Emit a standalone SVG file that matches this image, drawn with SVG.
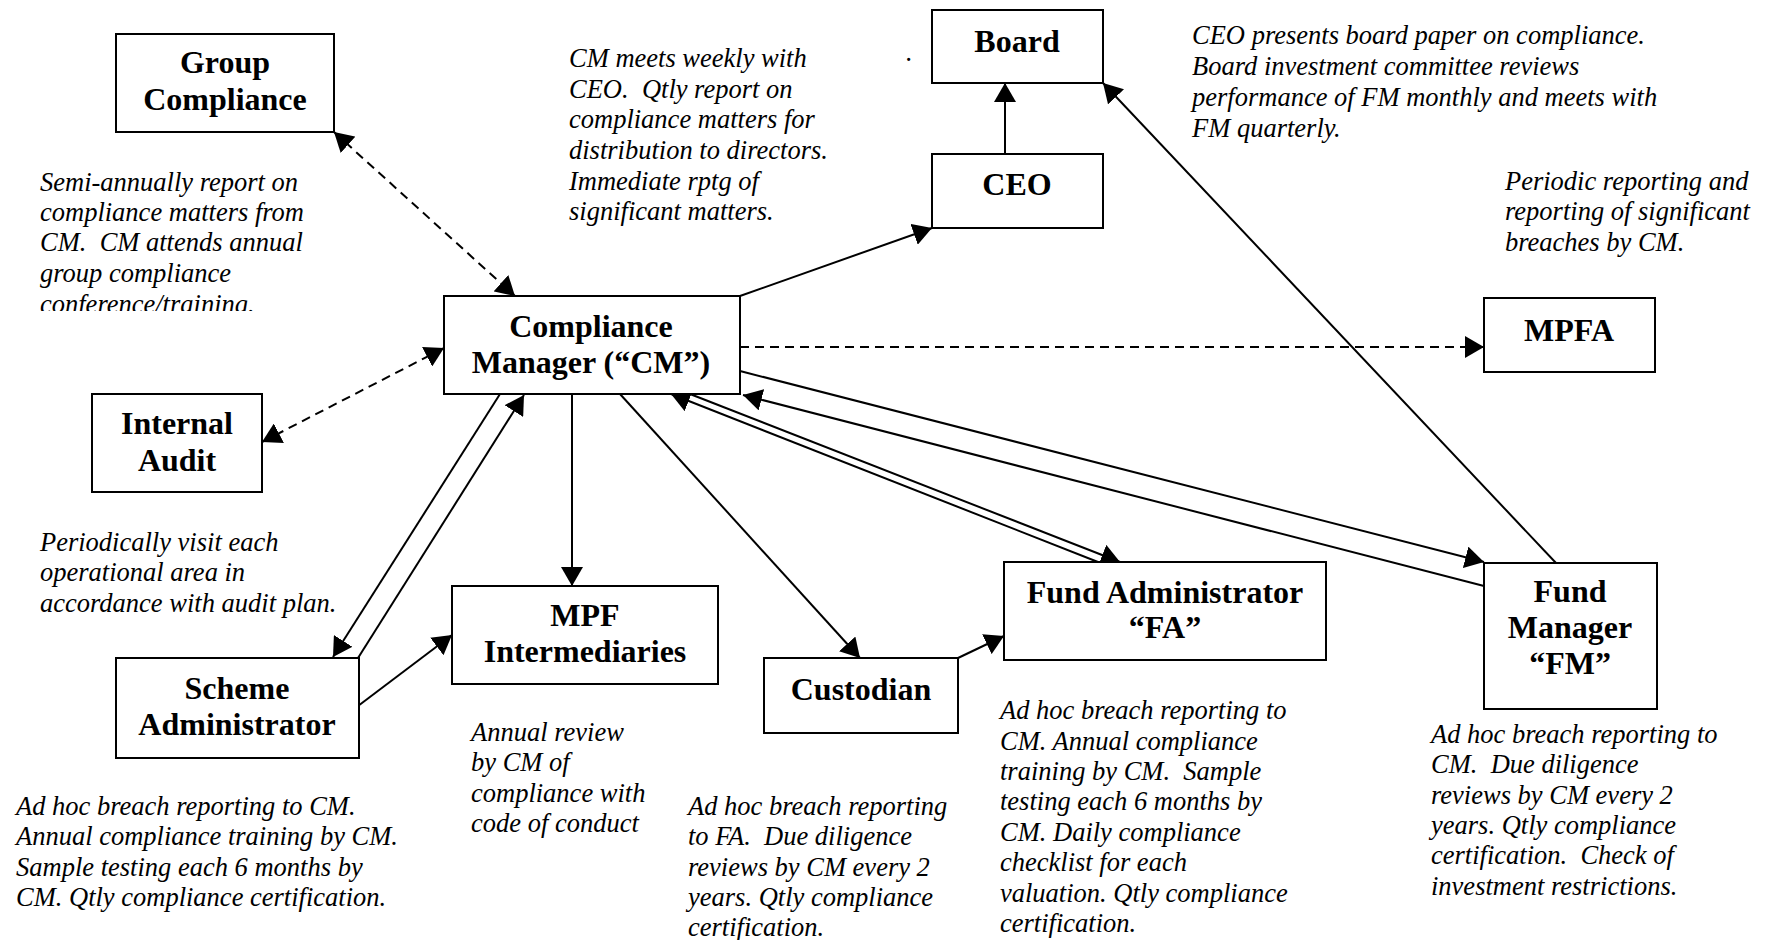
<svg xmlns="http://www.w3.org/2000/svg" width="1767" height="940" viewBox="0 0 1767 940">
<defs>
<marker id="ah" markerUnits="userSpaceOnUse" markerWidth="20" markerHeight="22" refX="19" refY="11" orient="auto-start-reverse" viewBox="0 0 20 22"><path d="M0,0 L19,11 L0,22 z" fill="#000"/></marker>
<clipPath id="clipGC"><rect x="0" y="160" width="400" height="151"/></clipPath>
</defs>
<style>
.box{fill:#fff;stroke:#000;stroke-width:2}
.lbl{font-family:"Liberation Serif","Times New Roman",serif;font-weight:bold;font-size:32px;text-anchor:middle;fill:#000}
.note{font-family:"Liberation Serif","Times New Roman",serif;font-style:italic;font-size:26.5px;fill:#000;white-space:pre}
.ln{stroke:#000;stroke-width:2;fill:none}
.dash{stroke-dasharray:9,6}
</style>
<rect x="0" y="0" width="1767" height="940" fill="#fff"/>

<g id="connectors">
<line class="ln dash" x1="334" y1="132" x2="515" y2="296" marker-start="url(#ah)" marker-end="url(#ah)"/>
<line class="ln dash" x1="262" y1="442" x2="444" y2="348" marker-start="url(#ah)" marker-end="url(#ah)"/>
<line class="ln dash" x1="740" y1="347" x2="1484" y2="347" marker-end="url(#ah)"/>
<line class="ln" x1="740" y1="296" x2="932" y2="228" marker-end="url(#ah)"/>
<line class="ln" x1="1005" y1="154" x2="1005" y2="83" marker-end="url(#ah)"/>
<line class="ln" x1="1556" y1="563" x2="1103" y2="83" marker-end="url(#ah)"/>
<line class="ln" x1="572" y1="394" x2="572" y2="586" marker-end="url(#ah)"/>
<line class="ln" x1="500" y1="394" x2="333" y2="657" marker-end="url(#ah)"/>
<line class="ln" x1="358" y1="658" x2="524" y2="395" marker-end="url(#ah)"/>
<line class="ln" x1="358" y1="706" x2="452" y2="635" marker-end="url(#ah)"/>
<line class="ln" x1="620" y1="394" x2="860" y2="658" marker-end="url(#ah)"/>
<line class="ln" x1="958" y1="658" x2="1004" y2="636" marker-end="url(#ah)"/>
<line class="ln" x1="690" y1="394" x2="1120" y2="562" marker-end="url(#ah)"/>
<line class="ln" x1="1098" y1="562" x2="671" y2="394" marker-end="url(#ah)"/>
<line class="ln" x1="740" y1="371" x2="1484" y2="562" marker-end="url(#ah)"/>
<line class="ln" x1="1484" y1="586" x2="743" y2="395" marker-end="url(#ah)"/>
</g>

<g id="group-compliance"><rect class="box" x="116" y="34" width="218" height="98"/><text class="lbl" x="225" y="73">Group</text><text class="lbl" x="225" y="110">Compliance</text></g>
<g id="board"><rect class="box" x="932" y="10" width="171" height="73"/><text class="lbl" x="1017" y="52">Board</text></g>
<g id="ceo"><rect class="box" x="932" y="154" width="171" height="74"/><text class="lbl" x="1017" y="195">CEO</text></g>
<g id="compliance-manager"><rect class="box" x="444" y="296" width="296" height="98"/><text class="lbl" x="591" y="337">Compliance</text><text class="lbl" x="591" y="373">Manager (“CM”)</text></g>
<g id="mpfa"><rect class="box" x="1484" y="298" width="171" height="74"/><text class="lbl" x="1569" y="341">MPFA</text></g>
<g id="internal-audit"><rect class="box" x="92" y="394" width="170" height="98"/><text class="lbl" x="177" y="434">Internal</text><text class="lbl" x="177" y="471">Audit</text></g>
<g id="mpf-intermediaries"><rect class="box" x="452" y="586" width="266" height="98"/><text class="lbl" x="585" y="626">MPF</text><text class="lbl" x="585" y="662">Intermediaries</text></g>
<g id="custodian"><rect class="box" x="764" y="658" width="194" height="75"/><text class="lbl" x="861" y="700">Custodian</text></g>
<g id="fund-administrator"><rect class="box" x="1004" y="562" width="322" height="98"/><text class="lbl" x="1165" y="603">Fund Administrator</text><text class="lbl" x="1165" y="638">“FA”</text></g>
<g id="fund-manager"><rect class="box" x="1484" y="563" width="173" height="146"/><text class="lbl" x="1570" y="602">Fund</text><text class="lbl" x="1570" y="638">Manager</text><text class="lbl" x="1570" y="674">“FM”</text></g>
<g id="scheme-administrator"><rect class="box" x="116" y="658" width="243" height="100"/><text class="lbl" x="237" y="699">Scheme</text><text class="lbl" x="237" y="735">Administrator</text></g>

<g id="notes">
<g clip-path="url(#clipGC)"><text class="note"><tspan x="40" y="191">Semi-annually report on</tspan><tspan x="40" y="221">compliance matters from</tspan><tspan x="40" y="251">CM.  CM attends annual</tspan><tspan x="40" y="282">group compliance</tspan><tspan x="40" y="313">conference/training.</tspan></text></g>
<text class="note"><tspan x="569" y="67">CM meets weekly with</tspan><tspan x="569" y="98">CEO.  Qtly report on</tspan><tspan x="569" y="128">compliance matters for</tspan><tspan x="569" y="159">distribution to directors.</tspan><tspan x="569" y="190">Immediate rptg of</tspan><tspan x="569" y="220">significant matters.</tspan></text>
<text class="note" x="906" y="61">.</text>
<text class="note"><tspan x="1192" y="44">CEO presents board paper on compliance.</tspan><tspan x="1192" y="75">Board investment committee reviews</tspan><tspan x="1192" y="106">performance of FM monthly and meets with</tspan><tspan x="1192" y="137">FM quarterly.</tspan></text>
<text class="note"><tspan x="1505" y="190">Periodic reporting and</tspan><tspan x="1505" y="220">reporting of significant</tspan><tspan x="1505" y="251">breaches by CM.</tspan></text>
<text class="note"><tspan x="40" y="551">Periodically visit each</tspan><tspan x="40" y="581">operational area in</tspan><tspan x="40" y="612">accordance with audit plan.</tspan></text>
<text class="note"><tspan x="16" y="815">Ad hoc breach reporting to CM.</tspan><tspan x="16" y="845">Annual compliance training by CM.</tspan><tspan x="16" y="876">Sample testing each 6 months by</tspan><tspan x="16" y="906">CM. Qtly compliance certification.</tspan></text>
<text class="note"><tspan x="471" y="741">Annual review</tspan><tspan x="471" y="771">by CM of</tspan><tspan x="471" y="802">compliance with</tspan><tspan x="471" y="832">code of conduct</tspan></text>
<text class="note"><tspan x="688" y="815">Ad hoc breach reporting</tspan><tspan x="688" y="845">to FA.  Due diligence</tspan><tspan x="688" y="876">reviews by CM every 2</tspan><tspan x="688" y="906">years. Qtly compliance</tspan><tspan x="688" y="936">certification.</tspan></text>
<text class="note"><tspan x="1000" y="719">Ad hoc breach reporting to</tspan><tspan x="1000" y="750">CM. Annual compliance</tspan><tspan x="1000" y="780">training by CM.  Sample</tspan><tspan x="1000" y="810">testing each 6 months by</tspan><tspan x="1000" y="841">CM. Daily compliance</tspan><tspan x="1000" y="871">checklist for each</tspan><tspan x="1000" y="902">valuation. Qtly compliance</tspan><tspan x="1000" y="932">certification.</tspan></text>
<text class="note"><tspan x="1431" y="743">Ad hoc breach reporting to</tspan><tspan x="1431" y="773">CM.  Due diligence</tspan><tspan x="1431" y="804">reviews by CM every 2</tspan><tspan x="1431" y="834">years. Qtly compliance</tspan><tspan x="1431" y="864">certification.  Check of</tspan><tspan x="1431" y="895">investment restrictions.</tspan></text>
</g>
</svg>
